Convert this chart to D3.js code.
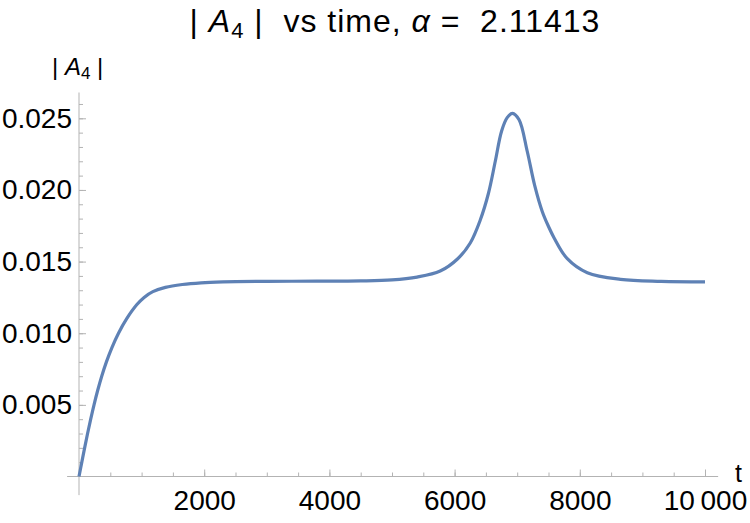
<!DOCTYPE html>
<html>
<head>
<meta charset="utf-8">
<script src="https://cdn.jsdelivr.net/npm/d3@7"></script>
<style>
  body { margin: 0; background: #fff; }
  svg text { font-family: "Liberation Sans", Arial, sans-serif; fill: #000; }
</style>
</head>
<body>
<div id="plot"></div>
<script>
// time samples and |A4| values
var times = [0, 45, 90, 137, 187, 240, 298, 363, 438, 526, 631, 760, 925, 1040, 1180, 1380, 1650,
  1950, 2300, 3000, 3800, 4500, 5000, 5400, 5770, 6050, 6250, 6410, 6540, 6650, 6750, 6840, 6925,
  7030, 7160, 7280, 7400, 7500, 7590, 7800, 8120, 8650, 9300, 10000];
var amp = [0, 0.0010, 0.0020, 0.0030, 0.0040, 0.0050, 0.0060, 0.0070, 0.0080, 0.0090, 0.0100,
  0.0110, 0.0120, 0.0125, 0.0129, 0.0132, 0.0134, 0.01352, 0.01358, 0.01362, 0.01363, 0.01365,
  0.01372, 0.01392, 0.01434, 0.01520, 0.01630, 0.01790, 0.01975, 0.02200, 0.02410, 0.02505, 0.02535,
  0.02490, 0.02270, 0.02030, 0.01850, 0.01745, 0.01665, 0.01520, 0.01422, 0.01376, 0.01362, 0.01358];

var xMajor = [2000, 4000, 6000, 8000, 10000];
var xMinor = d3.range(500, 10001, 500);
var yMajor = [0.005, 0.010, 0.015, 0.020, 0.025];
var yMinor = d3.range(1, 27).map(function(i) { return i / 1000; });

var width = 750, height = 523;

var svg = d3.select("#plot").append("svg")
  .attr("width", width)
  .attr("height", height);

var x = d3.scaleLinear().domain([0, 10000]).range([79, 705]);
var y = d3.scaleLinear().domain([0, 0.025]).range([476.5, 118.3]);

var axisColor = "#b3b3b3";

// axis lines (Mathematica draws them a bit past the data range)
svg.append("line")
  .attr("x1", x(-190)).attr("x2", x(10210))
  .attr("y1", y(0)).attr("y2", y(0))
  .attr("stroke", axisColor);
svg.append("line")
  .attr("x1", x(0)).attr("x2", x(0))
  .attr("y1", y(-0.0013)).attr("y2", y(0.0268))
  .attr("stroke", axisColor);

// minor ticks
var xMinorAxis = svg.append("g")
  .attr("transform", "translate(0," + y(0) + ")")
  .call(d3.axisBottom(x).tickValues(xMinor).tickSize(-4).tickFormat(""));
var yMinorAxis = svg.append("g")
  .attr("transform", "translate(" + x(0) + ",0)")
  .call(d3.axisLeft(y).tickValues(yMinor).tickSize(-4).tickFormat(""));

// major ticks with labels
var xAxis = svg.append("g")
  .attr("transform", "translate(0," + y(0) + ")")
  .call(d3.axisBottom(x).tickValues(xMajor).tickSize(-7).tickPadding(14)
    .tickFormat(function(d) { return d === 10000 ? "10\u2009000" : d; }));
var yAxis = svg.append("g")
  .attr("transform", "translate(" + x(0) + ",0)")
  .call(d3.axisLeft(y).tickValues(yMajor).tickSize(-7).tickPadding(7)
    .tickFormat(d3.format(".3f")));

[xMinorAxis, yMinorAxis, xAxis, yAxis].forEach(function(g) {
  g.select(".domain").remove();
  g.selectAll(".tick line").attr("stroke", axisColor);
  g.selectAll("text").attr("font-size", 28).attr("font-family", "Liberation Sans, Arial, sans-serif")
    .attr("fill", "#000");
});

// the curve
var line = d3.line()
  .x(function(d, i) { return x(times[i]); })
  .y(function(d) { return y(d); })
  .curve(d3.curveCatmullRom.alpha(0.5));

svg.append("path")
  .datum(amp)
  .attr("d", line)
  .attr("fill", "none")
  .attr("stroke", "#5e81b5")
  .attr("stroke-width", 3.2)
  .attr("stroke-linejoin", "round");

// title
var title = svg.append("text")
  .attr("x", 395)
  .attr("y", 32)
  .attr("text-anchor", "middle")
  .attr("font-size", 32)
  .attr("letter-spacing", 1)
  .style("white-space", "pre");
title.append("tspan").text("| ");
title.append("tspan").attr("font-style", "italic").text("A");
title.append("tspan").attr("font-size", 22).attr("dy", 6).text("4");
title.append("tspan").attr("dy", -6).text(" |  vs time, ");
title.append("tspan").attr("font-style", "italic").text("\u03b1");
title.append("tspan").text(" =  2.11413");

// y axis label
var ylab = svg.append("text")
  .attr("x", 52)
  .attr("y", 75)
  .attr("font-size", 24)
  .style("white-space", "pre");
ylab.append("tspan").text("| ");
ylab.append("tspan").attr("font-style", "italic").text("A");
ylab.append("tspan").attr("font-size", 17).attr("dy", 4).text("4");
ylab.append("tspan").attr("dy", -4).text(" |");

// x axis label
svg.append("text")
  .attr("x", 735)
  .attr("y", 482)
  .attr("font-size", 25)
  .text("t");
</script>
</body>
</html>
